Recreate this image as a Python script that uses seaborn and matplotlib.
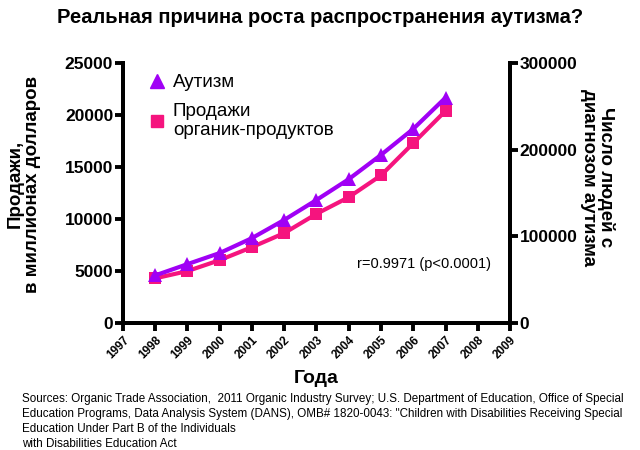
import pandas as pd
import numpy as np
import matplotlib
matplotlib.use("Agg")
import matplotlib.pyplot as plt
from matplotlib.lines import Line2D
import seaborn as sns

sns.set_style("white")
plt.rcParams["font.family"] = ["Liberation Sans", "DejaVu Sans"]
plt.rcParams["text.color"] = "black"
plt.rcParams["axes.labelcolor"] = "black"
plt.rcParams["xtick.color"] = "black"
plt.rcParams["ytick.color"] = "black"

# ---- data ----
years = [1998, 1999, 2000, 2001, 2002, 2003, 2004, 2005, 2006, 2007]
sales = [4300, 5000, 6050, 7300, 8650, 10500, 12100, 14200, 17300, 20400]
autism = [55000, 68000, 80800, 98000, 119000, 142000, 166000, 194000, 224000, 260000]
year_ticks = list(range(1997, 2010))
left_ticks = [0, 5000, 10000, 15000, 20000, 25000]
right_ticks = [0, 100000, 200000, 300000]

df = pd.DataFrame({"year": years, "sales": sales, "autism": autism})

PURPLE = "#A000F5"
PINK = "#F5147E"

fig = plt.figure(figsize=(6.4, 4.5), dpi=100)
ax = fig.add_axes([0.192, 0.282, 0.605, 0.578])
ax2 = ax.twinx()

sns.lineplot(data=df, x="year", y="sales", ax=ax, color=PINK, lw=3,
             marker="s", markersize=9, markeredgewidth=0)
sns.lineplot(data=df, x="year", y="autism", ax=ax2, color=PURPLE, lw=3,
             marker="^", markersize=10, markeredgewidth=0)

ax.set_xlim(1997, 2009)
ax.set_ylim(0, 25000)
ax2.set_ylim(0, 300000)
ax.set_xticks(year_ticks)
ax.set_xticklabels([str(y) for y in year_ticks], rotation=45, ha="right",
                   rotation_mode="anchor", fontsize=8.5, fontweight="bold")
ax.set_yticks(left_ticks)
ax.set_yticklabels([str(t) for t in left_ticks], fontsize=12.5, fontweight="bold")
ax2.set_yticks(right_ticks)
ax2.set_yticklabels([str(t) for t in right_ticks], fontsize=12.5, fontweight="bold")

for a in (ax, ax2):
    a.spines["top"].set_visible(False)
    for s in ("left", "right", "bottom"):
        a.spines[s].set_linewidth(2.8)
        a.spines[s].set_color("black")
    a.tick_params(width=2.8, length=6, direction="out", color="black", pad=1)
ax.tick_params(axis="y", left=True, right=False)
ax.tick_params(axis="x", bottom=True, pad=2)
ax2.tick_params(axis="y", right=True, left=False)

ax.set_xlabel("Года", fontsize=14, fontweight="bold", labelpad=6)
ax.set_ylabel("Продажи,\nв миллионах долларов", fontsize=13.5, fontweight="bold",
              linespacing=1.0, va="center")
ax.yaxis.set_label_coords(-0.255, 0.535)
ax2.set_ylabel("Число людей с\nдиагнозом аутизма", fontsize=13.5, fontweight="bold",
               rotation=-90, linespacing=1.0, va="center")
ax2.yaxis.set_label_coords(1.225, 0.56)

ax.text(0.605, 0.21, "r=0.9971 (p<0.0001)", transform=ax.transAxes, fontsize=10.5)

handles = [Line2D([], [], ls="none", marker="^", color=PURPLE, markersize=10),
           Line2D([], [], ls="none", marker="s", color=PINK, markersize=9)]
ax.legend(handles, ["Аутизм", "Продажи\nорганик-продуктов"], loc="upper left",
          bbox_to_anchor=(0.03, 1.0), frameon=False, fontsize=13.5,
          handletextpad=0.25, labelspacing=0.6, handlelength=1.2,
          borderaxespad=0.2)

fig.text(0.5, 0.962, "Реальная причина роста распространения аутизма?",
         ha="center", va="center", fontsize=14.5, fontweight="bold")
fig.text(0.034, 0.127,
         "Sources: Organic Trade Association,  2011 Organic Industry Survey; U.S. Department of Education, Office of Special\n"
         "Education Programs, Data Analysis System (DANS), OMB# 1820-0043: \"Children with Disabilities Receiving Special\n"
         "Education Under Part B of the Individuals\n"
         "with Disabilities Education Act",
         fontsize=8.4, va="top", linespacing=1.33)

fig.savefig("out.png", dpi=100)
